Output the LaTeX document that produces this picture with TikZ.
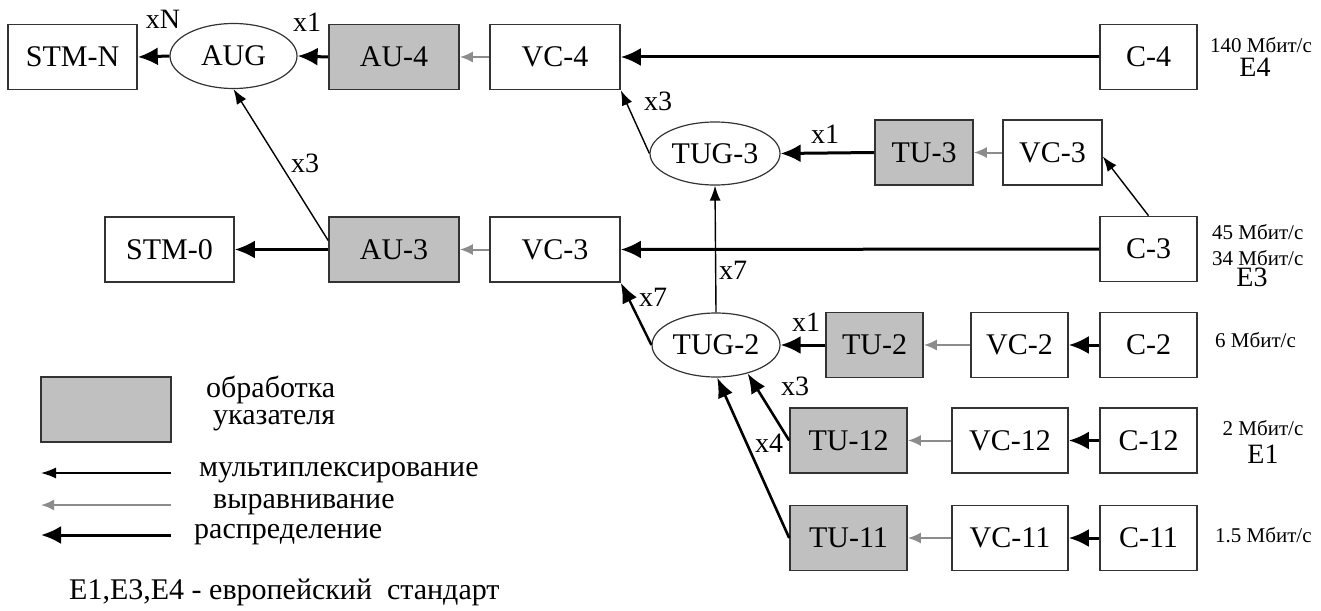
\documentclass[tikz,border=0pt]{standalone}
\usepackage{fontspec}
\setmainfont{Liberation Serif}
\usetikzlibrary{arrows.meta,shapes.geometric}
\definecolor{edgegray}{HTML}{333333}
\definecolor{ptrfill}{HTML}{C0C0C0}
\definecolor{aligngray}{HTML}{8C8C8C}
\begin{document}
\begin{tikzpicture}[x=1pt,y=-1pt,
  box/.style={draw=edgegray,line width=1.6pt,fill=white,inner sep=0pt,
    font=\fontsize{30}{34}\selectfont,minimum height=65pt},
  ptr/.style={box,fill=ptrfill},
  grp/.style={ellipse,draw=edgegray,line width=1.2pt,inner sep=0pt,
    font=\fontsize{30}{34}\selectfont,minimum width=128pt,minimum height=64pt},
  mux/.style={line width=1.4pt,-{Latex[length=15pt,width=11pt]}},
  distr/.style={line width=3pt,-{Latex[length=20pt,width=18pt]}},
  alignarr/.style={draw=aligngray,line width=2pt,-{Latex[length=13pt,width=11pt]},aligngray},
  mult/.style={font=\fontsize{28}{30}\selectfont,inner sep=0pt},
  rate/.style={font=\fontsize{21}{24}\selectfont,inner sep=0pt,anchor=west},
  std/.style={font=\fontsize{28}{30}\selectfont,inner sep=0pt},
  legend/.style={font=\fontsize{30}{34}\selectfont,inner sep=0pt,anchor=west}
]
\useasboundingbox (0,0) rectangle (1321,610);

% --- AU-4 / STM-N branch
\node[box,minimum width=129pt] (STMN) at (72.5,57) {STM-N};
\node[grp,minimum width=127pt,minimum height=65pt] (AUG) at (233.5,56) {AUG};
\node[ptr,minimum width=130pt] (AU4) at (394,57) {AU-4};
\node[box,minimum width=130pt] (VC4) at (555,57) {VC-4};
\node[box,minimum width=97pt] (C4) at (1148.5,57) {C-4};

% --- TUG-3 branch
\node[grp,minimum width=130pt,minimum height=63pt] (TUG3) at (715,153.5) {TUG-3};
\node[ptr,minimum width=98pt] (TU3) at (924,152.5) {TU-3};
\node[box,minimum width=99pt] (VC3u) at (1052.5,152.5) {VC-3};

% --- AU-3 / STM-0 branch
\node[box,minimum width=129pt] (STM0) at (169.5,249.5) {STM-0};
\node[ptr,minimum width=130pt] (AU3) at (394,249.5) {AU-3};
\node[box,minimum width=130pt] (VC3) at (555,249.5) {VC-3};
\node[box,minimum width=97pt] (C3) at (1148.5,249) {C-3};

% --- TUG-2 branch
\node[grp,minimum width=128pt,minimum height=64pt] (TUG2) at (716,345) {TUG-2};
\node[ptr,minimum width=97pt] (TU2) at (874.5,345) {TU-2};
\node[box,minimum width=97pt] (VC2) at (1019.5,345) {VC-2};
\node[box,minimum width=97pt] (C2) at (1148.5,345) {C-2};

\node[ptr,minimum width=117pt] (TU12) at (848.5,440.5) {TU-12};
\node[box,minimum width=116pt] (VC12) at (1010,440.5) {VC-12};
\node[box,minimum width=97pt] (C12) at (1148.5,440.5) {C-12};

\node[ptr,minimum width=117pt] (TU11) at (848.5,538) {TU-11};
\node[box,minimum width=116pt] (VC11) at (1010,538) {VC-11};
\node[box,minimum width=97pt] (C11) at (1148.5,538) {C-11};

% --- connectors
\draw[distr] (AUG.west) -- (STMN.east);
\draw[distr] (AU4.west) -- (AUG.east);
\draw[alignarr] (VC4.west) -- (AU4.east);
\draw[distr] (C4.west) -- (VC4.east);

\draw[mux] (TUG3.west) -- (VC4.south east);
\draw[distr] (TU3.west) -- (TUG3.east);
\draw[alignarr] (VC3u.west) -- (TU3.east);
\draw[mux] (C3.north) -- ([yshift=-4pt]VC3u.east);

\draw[distr] (C3.west) -- (VC3.east);
\draw[alignarr] (VC3.west) -- (AU3.east);
\draw[distr] (AU3.west) -- (STM0.east);
\draw[mux] ([yshift=9pt]AU3.west) -- (AUG.south);

\draw[mux] (TUG2.north) -- (TUG3.south);
\draw[line width=2.4pt,-{Latex[length=20pt,width=16pt]}] (TUG2.west) -- (VC3.south east);
\draw[distr] (TU2.west) -- (TUG2.east);
\draw[alignarr] (VC2.west) -- (TU2.east);
\draw[distr] (C2.west) -- (VC2.east);

\draw[line width=2.6pt,-{Latex[length=20pt,width=16pt]}] (TU12.west) -- (TUG2.-42);
\draw[alignarr] (VC12.west) -- (TU12.east);
\draw[distr] (C12.west) -- (VC12.east);

\draw[line width=2.6pt,-{Latex[length=20pt,width=16pt]}] (TU11.west) -- (TUG2.-88);
\draw[alignarr] (VC11.west) -- (TU11.east);
\draw[distr] (C11.west) -- (VC11.east);

% --- multiplicity labels
\node[mult] (mN)  at (163,19) {xN};
\node[mult] (m1a) at (307,22) {x1};
\node[mult] (m3a) at (305,163) {x3};
\node[mult] (m3b) at (658,101) {x3};
\node[mult] (m1b) at (825,134) {x1};
\node[mult] (m7a) at (733,270) {x7};
\node[mult] (m7b) at (653,297) {x7};
\node[mult] (m1c) at (806,322) {x1};
\node[mult] (m3c) at (795,386) {x3};
\node[mult] (m4)  at (769,443) {x4};

% --- bit rates
\node[rate] (r140) at (1210,45) {140 Мбит/с};
\node[std] (e4) at (1255,67) {E4};
\node[rate] (r45) at (1212,232) {45 Мбит/с};
\node[rate] (r34) at (1212,258) {34 Мбит/с};
\node[std] (e3) at (1252,277) {E3};
\node[rate] (r6) at (1215,340) {6 Мбит/с};
\node[rate,anchor=center] (r2) at (1263,428) {2 Мбит/с};
\node[std] (e1) at (1263,454) {E1};
\node[rate] (r15) at (1215,535) {1.5 Мбит/с};

% --- legend
\node[ptr,minimum width=130pt] (lgbox) at (106,409.5) {};
\node[legend] (lgt1) at (206,390) {обработка};
\node[legend] (lgt2) at (213,421) {указателя};
\coordinate (lm1) at (171,473);
\coordinate (lm0) at (41,473);
\coordinate (la1) at (171,505);
\coordinate (la0) at (41,505);
\coordinate (ld1) at (171,535);
\coordinate (ld0) at (41,535);
\draw[mux] (lm1) -- (lm0);
\draw[alignarr] (la1) -- (la0);
\draw[distr] (ld1) -- (ld0);
\node[legend] (lgm) at (199,473) {мультиплексирование};
\node[legend] (lga) at (213,505) {выравнивание};
\node[legend] (lgd) at (194,535) {распределение};
\node[legend] (foot) at (69,592) {E1,E3,E4 - европейский\ \ стандарт};
\end{tikzpicture}
\end{document}
